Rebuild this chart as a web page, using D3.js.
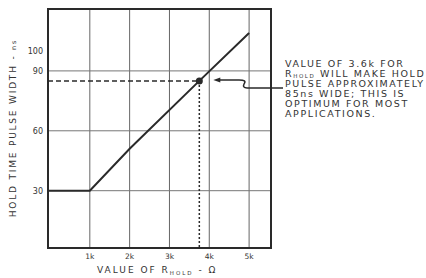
<!DOCTYPE html>
<html>
<head>
<meta charset="utf-8">
<script src="https://cdn.jsdelivr.net/npm/d3@7"></script>
<style>
  body { margin: 0; background: #fff; }
  svg { display: block; font-family: "DejaVu Sans", sans-serif; }
</style>
</head>
<body>
<svg id="chart" width="426" height="278"></svg>
<script>
// values
var rHold = [-0.05, 1, 2, 3.75, 5];        // k-ohm
var pulseWidth = [30, 30, 51, 85, 109];    // ns
var xTicks = [1, 2, 3, 4, 5];
var xTickLabels = ["1k", "2k", "3k", "4k", "5k"];
var yGrid = [30, 60, 90];
var yTicks = [30, 60, 90, 100];
var marker = { r: 3.75, w: 85 };
var note = ["VALUE OF 3.6k FOR", "R|HOLD| WILL MAKE HOLD", "PULSE APPROXIMATELY",
            "85ns WIDE; THIS IS", "OPTIMUM FOR MOST", "APPLICATIONS."];

var ink = "#2a2a2a";
var svg = d3.select("#chart");

var x = d3.scaleLinear().domain([-0.05, 5.55]).range([48, 271]);
var y = d3.scaleLinear().domain([1.3, 121]).range([248, 9]);

// grid
svg.selectAll("line.vg")
  .data(xTicks)
  .enter()
  .append("line")
  .attr("class", "vg")
  .attr("x1", d => x(d)).attr("x2", d => x(d))
  .attr("y1", y.range()[0]).attr("y2", y.range()[1])
  .attr("stroke", "#666").attr("stroke-width", 1);

svg.selectAll("line.hg")
  .data(yGrid)
  .enter()
  .append("line")
  .attr("class", "hg")
  .attr("x1", x.range()[0]).attr("x2", x.range()[1])
  .attr("y1", d => y(d)).attr("y2", d => y(d))
  .attr("stroke", "#777").attr("stroke-width", 1);

// frame
svg.append("rect")
  .attr("x", x.range()[0]).attr("y", y.range()[1])
  .attr("width", x.range()[1] - x.range()[0])
  .attr("height", y.range()[0] - y.range()[1])
  .attr("fill", "none").attr("stroke", ink).attr("stroke-width", 2);

// curve
var pts = rHold.map((r, i) => [x(r), y(pulseWidth[i])]);
svg.append("path")
  .attr("d", d3.line()(pts))
  .attr("fill", "none").attr("stroke", ink).attr("stroke-width", 2);

// operating point guides
svg.append("line")
  .attr("x1", x.range()[0]).attr("x2", x(marker.r))
  .attr("y1", y(marker.w)).attr("y2", y(marker.w))
  .attr("stroke", ink).attr("stroke-width", 1.5).attr("stroke-dasharray", "5,3");
svg.append("line")
  .attr("x1", x(marker.r)).attr("x2", x(marker.r))
  .attr("y1", y(marker.w)).attr("y2", y.range()[0])
  .attr("stroke", ink).attr("stroke-width", 1.5).attr("stroke-dasharray", "2,2");
svg.append("circle")
  .attr("cx", x(marker.r)).attr("cy", y(marker.w)).attr("r", 3.5)
  .attr("fill", ink);

// arrow from the note to the point
var ax = x(marker.r) + 14, ay = y(marker.w) - 1;
var bx = x(5) - 4, by = ay + 8, ex = 283;
svg.append("path")
  .attr("d", "M" + ex + "," + by + " L" + (bx + 2) + "," + by +
       " Q" + (bx - 3) + "," + by + " " + (bx - 1) + "," + (ay + 4) +
       " Q" + (bx + 2) + "," + ay + " " + (bx - 6) + "," + ay +
       " L" + (ax + 5) + "," + ay)
  .attr("fill", "none").attr("stroke", ink).attr("stroke-width", 1.5);
svg.append("path")
  .attr("d", "M" + ax + "," + ay + " l7,-2.5 l0,5 z")
  .attr("fill", ink);

// y tick labels
svg.selectAll("text.yt")
  .data(yTicks)
  .enter()
  .append("text")
  .attr("class", "yt")
  .attr("x", 43).attr("y", d => y(d) + 3)
  .attr("text-anchor", "end")
  .style("font-size", "8px").style("fill", "#333")
  .text(d => d);

// x tick labels
svg.selectAll("text.xt")
  .data(xTicks)
  .enter()
  .append("text")
  .attr("class", "xt")
  .attr("x", d => x(d)).attr("y", 259)
  .attr("text-anchor", "middle")
  .style("font-size", "7.5px").style("fill", "#333")
  .text((d, i) => xTickLabels[i]);

// axis titles
var yt = svg.append("text")
  .attr("transform", "translate(16,128) rotate(-90)")
  .attr("text-anchor", "middle")
  .style("font-size", "9px").style("letter-spacing", "1.8px").style("fill", "#333");
yt.append("tspan").text("HOLD TIME PULSE WIDTH - ");
yt.append("tspan").style("font-size", "6.5px").text("ns");

var xt = svg.append("text")
  .attr("x", 97).attr("y", 273)
  .style("font-size", "9px").style("letter-spacing", "2px").style("fill", "#333");
xt.append("tspan").text("VALUE OF R");
xt.append("tspan").attr("dy", 1.5).style("font-size", "5.5px").text("HOLD");
xt.append("tspan").attr("dy", -1.5).text(" - Ω");

// note
note.forEach(function(line, i) {
  var t = svg.append("text")
    .attr("x", 285).attr("y", 67 + i * 10)
    .style("font-size", "9.5px").style("letter-spacing", "1.6px").style("fill", "#333");
  var parts = line.split("|");
  if (parts.length > 1) {
    t.append("tspan").text(parts[0]);
    t.append("tspan").attr("dy", 0.5).style("font-size", "5.5px").text(parts[1]);
    t.append("tspan").attr("dy", -0.5).text(parts[2]);
  } else {
    t.text(line);
  }
});
</script>
</body>
</html>
